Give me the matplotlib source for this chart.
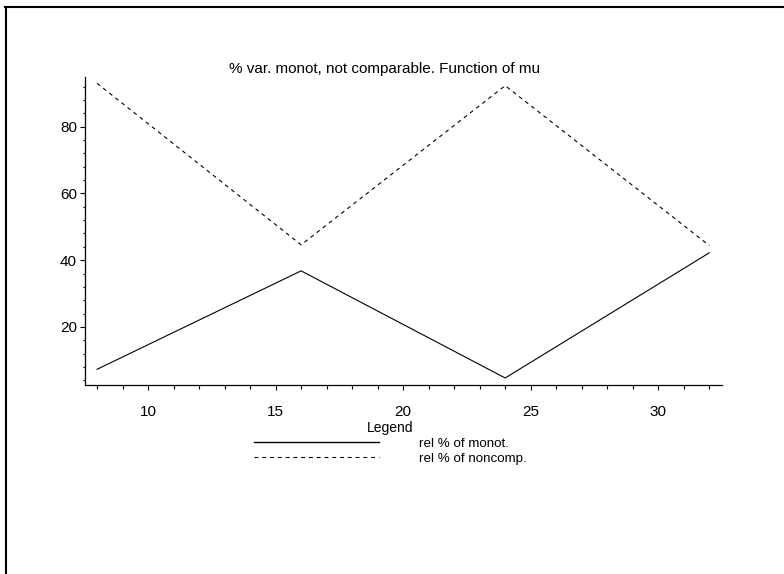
import numpy as np
import matplotlib
matplotlib.use("Agg")
import matplotlib.pyplot as plt
from matplotlib.lines import Line2D
from matplotlib.ticker import MultipleLocator

plt.rcParams['font.family'] = ['Liberation Sans', 'DejaVu Sans']

# values per mu
mu = [8, 16, 24, 32]
rel_monot = [7.3, 36.8, 4.7, 42.2]
rel_noncomp = [93.0, 44.6, 92.3, 44.4]

W, H = 784, 574
fig = plt.figure(figsize=(W / 100, H / 100), dpi=100)
ax = fig.add_axes([84.8 / W, 1 - 385 / H, (722 - 84.8) / W, (385 - 77.3) / H])

ln1, = ax.plot(mu, rel_monot, color='black', lw=0.8)
ln2, = ax.plot(mu, rel_noncomp, color='black', lw=0.8)
ln2.set_dashes([3.5, 3.5])

ax.set_xlim(7.52, 32.5)
ax.set_ylim(2.6, 94.8)
for s in ['top', 'right']:
    ax.spines[s].set_visible(False)
for s in ['left', 'bottom']:
    ax.spines[s].set_linewidth(0.9)

ax.xaxis.set_major_locator(MultipleLocator(5))
ax.xaxis.set_minor_locator(MultipleLocator(1))
ax.yaxis.set_major_locator(MultipleLocator(20))
ax.yaxis.set_minor_locator(MultipleLocator(4))
ax.tick_params(axis='x', which='major', length=3.5, width=0.8, pad=11, labelsize=11)
ax.tick_params(axis='x', which='minor', length=3, width=0.8)
ax.tick_params(axis='y', which='major', length=3.6, width=0.8, pad=2, labelsize=11)
ax.tick_params(axis='y', which='minor', length=1.8, width=0.8)

fig.text(385 / W, 1 - 69 / H, '% var. monot, not comparable. Function of mu',
         ha='center', va='center', fontsize=11)

# legend below the axes
leg_h1 = Line2D([], [], color='black', lw=1)
leg_h2 = Line2D([], [], color='black', lw=0.8, dashes=[3.5, 3.5])
leg = fig.legend([leg_h1, leg_h2], ['rel % of monot.', 'rel % of noncomp.'],
                 title='Legend', loc='upper left',
                 bbox_to_anchor=(254 / W, 1 - 421 / H),
                 frameon=False, fontsize=9.6, title_fontsize=10,
                 handlelength=9.4, handletextpad=3.0, labelspacing=0.2,
                 borderpad=0, borderaxespad=0)

# frame along the top and left edges
fig.add_artist(Line2D([5.5 / W, 5.5 / W], [0, 1 - 6.5 / H], color='black', lw=1.5,
                      transform=fig.transFigure))
fig.add_artist(Line2D([5 / W, 1], [1 - 6.5 / H, 1 - 6.5 / H], color='black', lw=1.5,
                      transform=fig.transFigure))

fig.savefig('out.png', dpi=100)
